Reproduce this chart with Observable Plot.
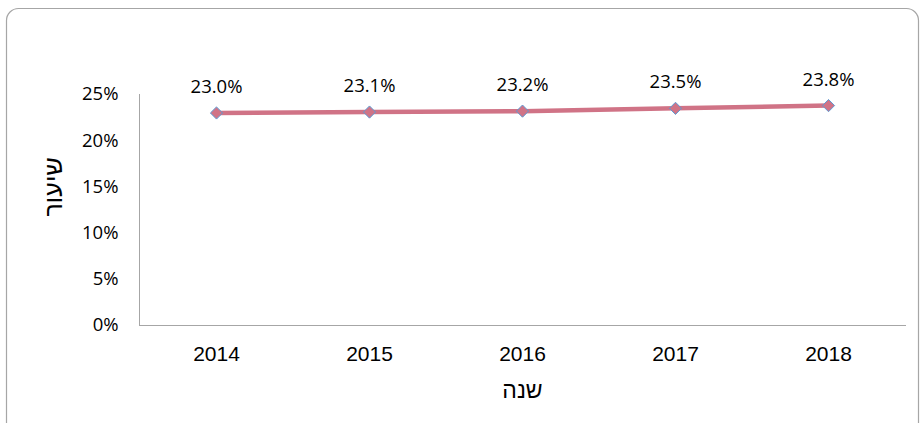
<!DOCTYPE html>
<html><head><meta charset="utf-8">
<script src="https://cdn.jsdelivr.net/npm/d3@7"></script>
<script src="https://cdn.jsdelivr.net/npm/@observablehq/plot@0.6"></script>
<style>body{margin:0;background:#fff} #chart{width:920px;height:423px}</style>
</head><body><div id="chart"></div>
<script>
const years = ["2014", "2015", "2016", "2017", "2018"];
const rates = [0.230, 0.231, 0.232, 0.235, 0.238];
const yTicks = [0, 0.05, 0.10, 0.15, 0.20, 0.25];
const xTitle = "שנה";
const yTitle = "שיעור";

const data = years.map((year, i) => ({year, rate: rates[i]}));

const chart = Plot.plot({
  width: 920, height: 423,
  marginLeft: 139, marginRight: 15, marginTop: 94, marginBottom: 98,
  style: {background: "transparent", fontFamily: "Open Sans", color: "#000"},
  x: {type: "point", domain: years, padding: 0.5},
  y: {domain: [0, 0.25]},
  marks: [
    Plot.frame({anchor: "left", stroke: "#a6a6a6"}),
    Plot.frame({anchor: "bottom", stroke: "#a6a6a6"}),
    Plot.axisY({ticks: yTicks, tickFormat: d3.format(".0%"), tickSize: 0, tickPadding: 21, fontSize: 18.5, fontFamily: "Open Sans", label: null}),
    Plot.axisX({tickSize: 0, tickPadding: 21, fontSize: 21, fontFamily: "Liberation Sans", label: null}),
    Plot.line(data, {x: "year", y: "rate", stroke: "#d07386", strokeWidth: 4.5}),
    Plot.dot(data, {x: "year", y: "rate", symbol: "diamond2", r: 5.5, fill: "#d07386", stroke: "#5b9bd5", strokeWidth: 1}),
    Plot.text(data, {x: "year", y: "rate", text: d => d3.format(".1%")(d.rate), dy: -20, lineAnchor: "bottom", fontSize: 18.5, fontFamily: "Open Sans", fill: "#000"}),
    Plot.text([xTitle], {text: d => d, frameAnchor: "bottom", lineAnchor: "bottom", dy: 72, fontSize: 23, fontFamily: "Liberation Sans", fill: "#000"}),
    Plot.text([yTitle], {text: d => d, frameAnchor: "left", rotate: -90, dx: -86, dy: 6.5, fontSize: 25, fontFamily: "Liberation Sans", fill: "#000"})
  ]
});

d3.select(chart).insert("rect", ":first-child")
  .attr("x", 6.5).attr("y", 8.5).attr("width", 912).attr("height", 430)
  .attr("rx", 12).attr("fill", "none").attr("stroke", "#a6a6a6").attr("stroke-width", 1.2);

document.getElementById("chart").appendChild(chart);
</script>
</body></html>
